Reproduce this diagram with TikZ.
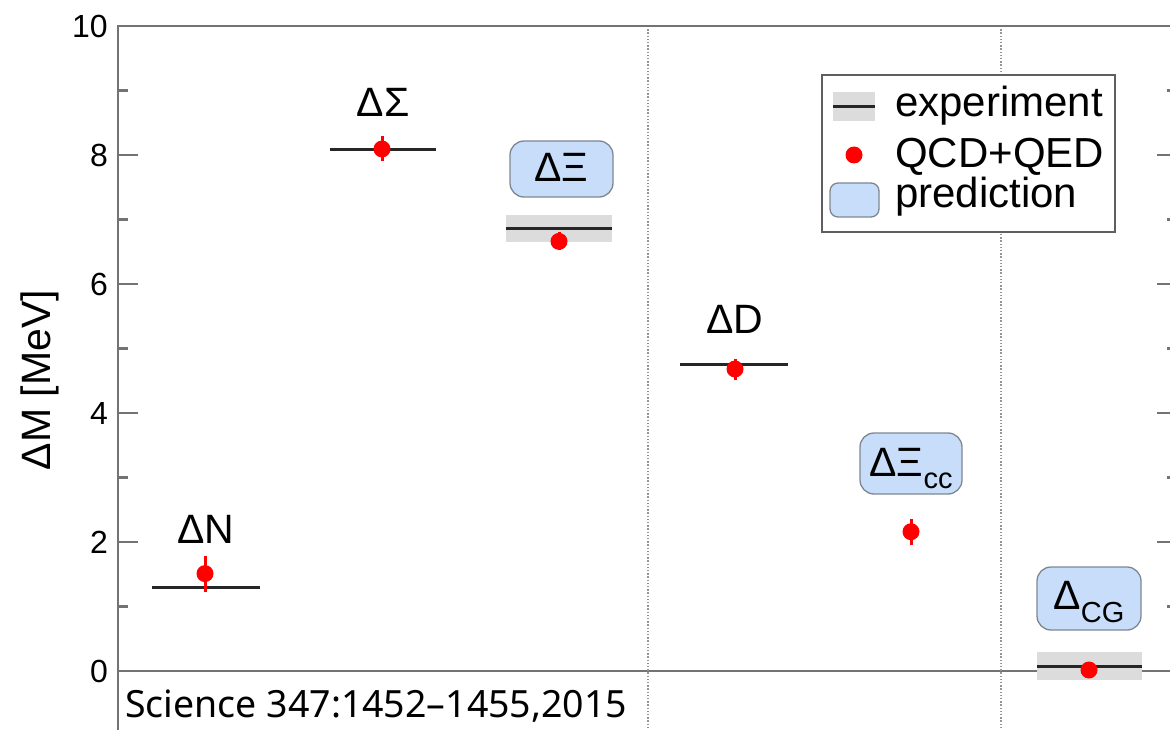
\documentclass[tikz,border=0pt]{standalone}
\usepackage{fontspec}
\setmainfont{Liberation Sans}
\newfontfamily\srcfont{Noto Sans}
\definecolor{predblue}{RGB}{200,221,250}
\definecolor{boxgray}{RGB}{125,135,145}
\definecolor{bandgray}{RGB}{220,220,220}
\definecolor{framegray}{RGB}{115,115,115}
\definecolor{sepgray}{RGB}{150,150,150}
\definecolor{legendgray}{RGB}{95,95,95}
\begin{document}
\begin{tikzpicture}[x=1pt,y=-1pt,
  frame/.style={draw=framegray,line width=2.4pt},
  zeroline/.style={draw=framegray,line width=2pt},
  sepline/.style={draw=sepgray,line width=1.4pt,dash pattern=on 1.4pt off 1.8pt},
  band/.style={fill=bandgray,draw=none},
  expline/.style={draw=black!85,line width=3pt},
  errbar/.style={draw=red,line width=3pt},
  dot/.style={circle,fill=red,inner sep=0pt,minimum size=17pt},
  lab/.style={font=\fontsize{41}{49}\selectfont,inner sep=0pt},
  ticklab/.style={font=\fontsize{32}{38}\selectfont,inner sep=0pt,anchor=east},
  predbox/.style={draw=boxgray,fill=predblue,rounded corners=14pt,line width=1.3pt,inner sep=0pt},
  legtext/.style={font=\fontsize{42}{50}\selectfont,inner sep=0pt,anchor=base west}
]
\useasboundingbox (0,0) rectangle (1170,730);

% zero line and separators
\draw[zeroline] (118,670.5) -- (1180,670.5);
\draw[sepline] (648,26) -- (648,740);
\draw[sepline] (1001,26) -- (1001,740);

% frame
\draw[frame] (118,745) -- (118,26) -- (1177,26) -- (1177,745);
\foreach \v in {0,2,...,10}{
  \pgfmathsetmacro\yy{671-64.5*\v}
  \draw[frame] (118,\yy) -- (138,\yy);
  \draw[frame] (1157,\yy) -- (1177,\yy);
  \node[ticklab] (tl\v) at (108,\yy) {\v};
}
\foreach \v in {-1,1,3,5,7,9}{
  \pgfmathsetmacro\yy{671-64.5*\v}
  \draw[frame] (118,\yy) -- (128,\yy);
  \draw[frame] (1167,\yy) -- (1177,\yy);
}
\node[lab,rotate=90] (ylab) at (40,380) {ΔM [MeV]};

% experimental bands and lines
\fill[band] (506,215.5) rectangle (612,242.5);
\fill[band] (1037,652) rectangle (1142,680);
\draw[expline] (152,587.6) -- (260,587.6);
\draw[expline] (330,149.8) -- (436,149.8);
\draw[expline] (506,229) -- (612,229);
\draw[expline] (680,364.6) -- (788,364.6);
\draw[expline] (1037,666) -- (1142,666);

% lattice points
\draw[errbar] (205,555.6) -- (205,591.6);
\node[dot] (pN) at (205,573.6) {};
\draw[errbar] (382,136.5) -- (382,161.5);
\node[dot] (pS) at (382,149) {};
\draw[errbar] (559,232.4) -- (559,250.4);
\node[dot] (pX) at (559,241.4) {};
\draw[errbar] (735,358.5) -- (735,379.5);
\node[dot] (pD) at (735,369) {};
\draw[errbar] (911,518.7) -- (911,544.7);
\node[dot] (pXcc) at (911,531.7) {};
\node[dot] (pCG) at (1089,670) {};

% labels
\node[lab,anchor=base] (lN) at (206,543) {ΔN};
\node[lab,anchor=base] (lS) at (383,117) {ΔΣ};
\node[lab,anchor=base] (lD) at (735,333) {ΔD};

\node[predbox,minimum width=103pt,minimum height=56pt] (bX) at (561.5,169) {};
\node[lab,anchor=base] (lX) at (561.5,182) {ΔΞ};
\node[predbox,minimum width=102pt,minimum height=61pt] (bXcc) at (911,463.5) {};
\node[lab,anchor=base] (lXcc) at (911,476) {ΔΞ\raisebox{-12pt}{\fontsize{29}{30}\selectfont cc}};
\node[predbox,minimum width=104pt,minimum height=63pt] (bCG) at (1089,598.5) {};
\node[lab,anchor=base] (lCG) at (1089,609) {Δ\raisebox{-13pt}{\fontsize{29}{30}\selectfont CG}};

% legend
\node[draw=legendgray,fill=white,line width=1.8pt,minimum width=293pt,minimum height=157pt,inner sep=0pt] (legend) at (968.5,153.5) {};
\fill[band] (833,92) rectangle (875,121);
\draw[expline] (833,107) -- (875,107);
\node[dot] (legdot) at (854,155) {};
\node[predbox,rounded corners=8pt,minimum width=49pt,minimum height=34pt] (legbox) at (854.5,200) {};
\node[legtext] (le1) at (895,117) {experiment};
\node[legtext] (le2) at (895,168) {QCD+QED};
\node[legtext] (le3) at (895,208) {prediction};

% source
\node[font=\srcfont\fontsize{37.5}{44}\selectfont,anchor=base west,inner sep=0pt] (src) at (125,717) {Science 347:1452–1455,2015};
\end{tikzpicture}
\end{document}
